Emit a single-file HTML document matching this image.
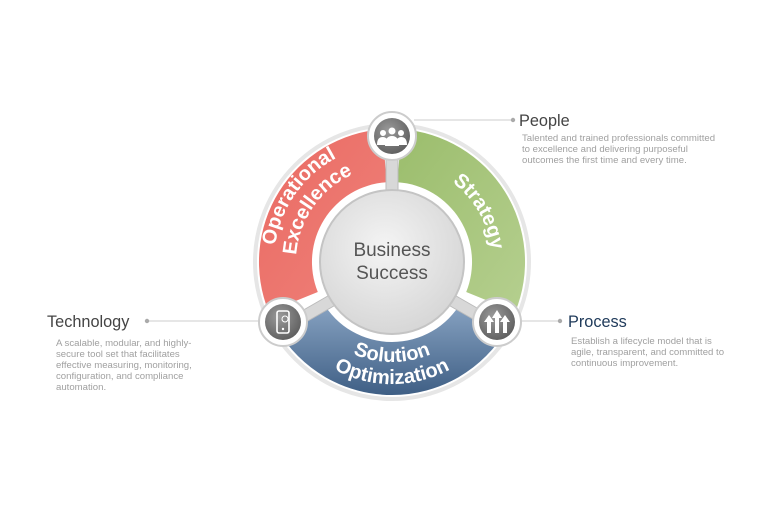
<!DOCTYPE html>
<html><head><meta charset="utf-8"><style>
html,body{margin:0;padding:0;background:#fff;}
svg{display:block;font-family:"Liberation Sans",sans-serif;}
.d{font-size:9.6px;fill:#a0a0a0;}
.t{font-size:16.3px;fill:#444;}
.w{font-weight:bold;fill:#fff;font-size:20px;}
</style></head><body>
<svg width="774" height="516" viewBox="0 0 774 516">
<defs>
<linearGradient id="gr" x1="0" y1="0" x2="1" y2="1"><stop offset="0" stop-color="#e96a62"/><stop offset="1" stop-color="#f0827b"/></linearGradient>
<linearGradient id="gg" x1="0" y1="0" x2="1" y2="1"><stop offset="0" stop-color="#9bbd6c"/><stop offset="1" stop-color="#b5cf8f"/></linearGradient>
<linearGradient id="gb" x1="0" y1="0" x2="0" y2="1"><stop offset="0" stop-color="#8aa5c4"/><stop offset="1" stop-color="#3f5f85"/></linearGradient>
<radialGradient id="gc" cx="0.45" cy="0.4" r="0.7"><stop offset="0" stop-color="#f4f4f4"/><stop offset="1" stop-color="#d2d2d2"/></radialGradient>
<radialGradient id="gi" cx="0.4" cy="0.35" r="0.8"><stop offset="0" stop-color="#9a9a9a"/><stop offset="1" stop-color="#555"/></radialGradient>
<path id="p1" d="M278 292.6 A118 118 0 0 1 381.7 144.5"/>
<path id="p2" d="M299.3 286.9 A96 96 0 0 1 383.6 166.4"/>
<path id="p3" d="M409.4 163.5 A100 100 0 0 1 486 296.2"/>
<path id="p4" d="M305.4 312 A100 100 0 0 0 478.6 312"/>
<path id="p5" d="M286.3 323 A122 122 0 0 0 497.7 323"/>
</defs>
<circle cx="392" cy="262" r="137" fill="none" stroke="#e6e6e6" stroke-width="4"/>
<path d="M268.7 311.9 A133 133 0 0 1 382.7 129.3 L386.4 182.2 A80 80 0 0 0 317.8 292 Z" fill="url(#gr)"/>
<path d="M401.3 129.3 A133 133 0 0 1 515.3 311.9 L466.2 292 A80 80 0 0 0 397.6 182.2 Z" fill="url(#gg)"/>
<path d="M507.2 328.5 A133 133 0 0 1 276.8 328.5 L322.7 302 A80 80 0 0 0 461.3 302 Z" fill="url(#gb)"/>
<g fill="#d8d8d8" stroke="#bbb" stroke-width="1">
<rect x="386" y="150" width="12" height="46"/>
<path d="M300 312 L340 289 L346 299 L306 322 Z"/>
<path d="M484 312 L444 289 L438 299 L478 322 Z"/>
</g>
<circle cx="392" cy="262" r="72" fill="url(#gc)" stroke="#c4c4c4" stroke-width="2"/>
<text x="392" y="256" text-anchor="middle" style="font-size:19px;fill:#555">Business</text>
<text x="392" y="279" text-anchor="middle" style="font-size:19px;fill:#555">Success</text>
<text class="w"><textPath href="#p1" startOffset="50%" text-anchor="middle">Operational</textPath></text>
<text class="w"><textPath href="#p2" startOffset="50%" text-anchor="middle">Excellence</textPath></text>
<text class="w"><textPath href="#p3" startOffset="50%" text-anchor="middle">Strategy</textPath></text>
<text class="w"><textPath href="#p4" startOffset="50%" text-anchor="middle">Solution</textPath></text>
<text class="w"><textPath href="#p5" startOffset="50%" text-anchor="middle">Optimization</textPath></text>
<g stroke="#ccc" stroke-width="1"><line x1="414" y1="120" x2="513" y2="120"/><line x1="520" y1="321" x2="560" y2="321"/><line x1="147" y1="321" x2="262" y2="321"/></g>
<g fill="#aaa"><circle cx="513" cy="120" r="2.2"/><circle cx="560" cy="321" r="2.2"/><circle cx="147" cy="321" r="2.2"/></g>
<g>
<circle cx="392" cy="136" r="24" fill="#fff" stroke="#ccc" stroke-width="2"/><circle cx="392" cy="136" r="18" fill="url(#gi)"/>
<circle cx="283" cy="322" r="24" fill="#fff" stroke="#ccc" stroke-width="2"/><circle cx="283" cy="322" r="18" fill="url(#gi)"/>
<circle cx="497" cy="322" r="24" fill="#fff" stroke="#ccc" stroke-width="2"/><circle cx="497" cy="322" r="18" fill="url(#gi)"/>
</g>
<g fill="#fff">
<circle cx="392" cy="131" r="3.5"/><circle cx="383" cy="133" r="3"/><circle cx="401" cy="133" r="3"/>
<path d="M385 146 Q385 136 392 136 Q399 136 399 146 Z"/><path d="M377 145 Q377 137 383 137 Q387 137 388 142 L386 145Z"/><path d="M407 145 Q407 137 401 137 Q397 137 396 142 L398 145Z"/>
<rect x="277" y="311" width="12" height="22" rx="2" fill="none" stroke="#fff" stroke-width="1.6"/><circle cx="283" cy="329" r="1.2"/><circle cx="285" cy="319" r="3" fill="none" stroke="#fff"/>
<path d="M487 333 L487 322 L484 322 L489 315 L494 322 L491 322 L491 333Z"/><path d="M503 333 L503 322 L500 322 L505 315 L510 322 L507 322 L507 333Z"/><path d="M495 333 L495 318 L492 318 L497 310 L502 318 L499 318 L499 333Z"/>
</g>
<text x="519" y="126" class="t">People</text>
<text class="d"><tspan x="522" y="141">Talented and trained professionals committed</tspan><tspan x="522" y="152">to excellence and delivering purposeful</tspan><tspan x="522" y="163">outcomes the first time and every time.</tspan></text>
<text x="568" y="327" class="t" style="fill:#1f3a5a">Process</text>
<text class="d"><tspan x="571" y="344">Establish a lifecycle model that is</tspan><tspan x="571" y="355">agile, transparent, and committed to</tspan><tspan x="571" y="366">continuous improvement.</tspan></text>
<text x="47" y="327" class="t">Technology</text>
<text class="d"><tspan x="56" y="346">A scalable, modular, and highly-</tspan><tspan x="56" y="357">secure tool set that facilitates</tspan><tspan x="56" y="368">effective measuring, monitoring,</tspan><tspan x="56" y="379">configuration, and compliance</tspan><tspan x="56" y="390">automation.</tspan></text>
</svg>
</body></html>
